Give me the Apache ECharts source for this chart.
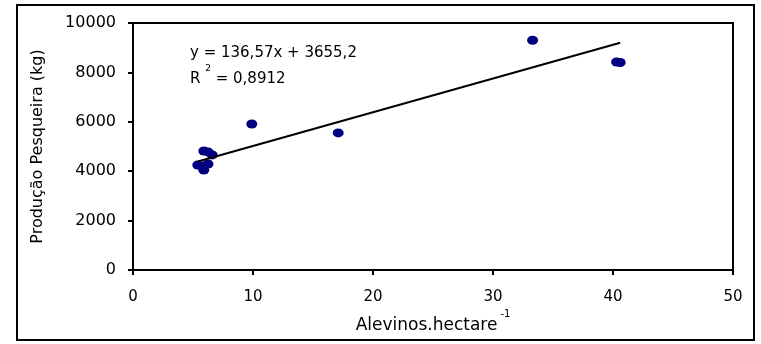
<!DOCTYPE html>
<html>
<head>
<meta charset="utf-8">
<script src="https://cdn.jsdelivr.net/npm/echarts@6/dist/echarts.min.js"></script>
<style>
  html, body { margin: 0; padding: 0; background: #ffffff; }
  #chart { width: 761px; height: 344px; }
</style>
</head>
<body>
<div id="chart"></div>
<script>
// pontos observados (alevinos por hectare, produção em kg)
var alevinos = [33.3, 40.3, 40.6, 17.1, 9.9, 5.9, 6.25, 6.6, 5.4, 5.75, 6.25, 5.9];
var producao = [9300, 8420, 8400, 5550, 5910, 4820, 4780, 4660, 4250, 4210, 4290, 4050];
// linha de tendência (extremos)
var tendX = [5.4, 40.6];
var tendY = [4393, 9200];
var xTicks = [0, 10, 20, 30, 40, 50];
var yTicks = [0, 2000, 4000, 6000, 8000, 10000];

var fonte = 'DejaVu Sans';

var myChart = echarts.init(document.getElementById('chart'));

var pontos = alevinos.map(function (x, i) { return [x, producao[i]]; });
var linha = tendX.map(function (x, i) { return [x, tendY[i]]; });

var option = {
  backgroundColor: '#ffffff',
  animation: false,
  grid: {
    left: 133,
    right: 28,
    top: 23,
    bottom: 74,
    show: true,
    borderColor: '#000000',
    borderWidth: 2
  },
  xAxis: {
    type: 'value',
    min: xTicks[0],
    max: xTicks[xTicks.length - 1],
    interval: 10,
    name: '{a|Alevinos.hectare}{s|-1}',
    nameLocation: 'middle',
    nameGap: 43,
    nameTextStyle: {
      rich: {
        a: { fontFamily: fonte, fontSize: 17, lineHeight: 19, color: '#000000', verticalAlign: 'bottom' },
        s: { fontFamily: fonte, fontSize: 10, lineHeight: 10, color: '#000000', verticalAlign: 'bottom', padding: [0, 0, 14, 3] }
      }
    },
    axisLine: { lineStyle: { color: '#000000', width: 2 } },
    axisTick: { show: true, length: 5, lineStyle: { color: '#000000', width: 2 } },
    axisLabel: { color: '#000000', fontFamily: fonte, fontSize: 15, margin: 20 },
    splitLine: { show: false }
  },
  yAxis: {
    type: 'value',
    min: yTicks[0],
    max: yTicks[yTicks.length - 1],
    interval: 2000,
    name: 'Produção Pesqueira (kg)',
    nameLocation: 'middle',
    nameGap: 87,
    nameTextStyle: { color: '#000000', fontFamily: fonte, fontSize: 16 },
    axisLine: { lineStyle: { color: '#000000', width: 2 } },
    axisTick: { show: true, length: 5, lineStyle: { color: '#000000', width: 2 } },
    axisLabel: {
      color: '#000000', fontFamily: fonte, fontSize: 16, margin: 17,
      formatter: function (v) { return String(v); }
    },
    splitLine: { show: false }
  },
  graphic: [
    {
      type: 'rect',
      shape: { x: 17, y: 5, width: 737, height: 335 },
      style: { fill: 'none', stroke: '#000000', lineWidth: 2 },
      z: 100
    },
    {
      type: 'text',
      left: 190,
      top: 46,
      style: { text: 'y = 136,57x + 3655,2', fontFamily: fonte, fontSize: 15, fill: '#000000' },
      z: 100
    },
    {
      type: 'text',
      left: 190,
      top: 64,
      style: {
        text: '{r|R }{s|2}{r| = 0,8912}',
        fill: '#000000',
        rich: {
          r: { fontFamily: fonte, fontSize: 15, lineHeight: 18, verticalAlign: 'bottom' },
          s: { fontFamily: fonte, fontSize: 9, lineHeight: 9, verticalAlign: 'bottom', padding: [0, 0, 14, 0] }
        }
      },
      z: 100
    }
  ],
  series: [
    {
      name: 'Tendência',
      type: 'line',
      data: linha,
      symbol: 'none',
      lineStyle: { color: '#000000', width: 2 },
      z: 3
    },
    {
      name: 'Produção',
      type: 'scatter',
      data: pontos,
      symbol: 'circle',
      symbolSize: [11, 9],
      itemStyle: { color: '#000080', opacity: 1 },
      z: 2
    }
  ]
};

myChart.setOption(option);
</script>
</body>
</html>
